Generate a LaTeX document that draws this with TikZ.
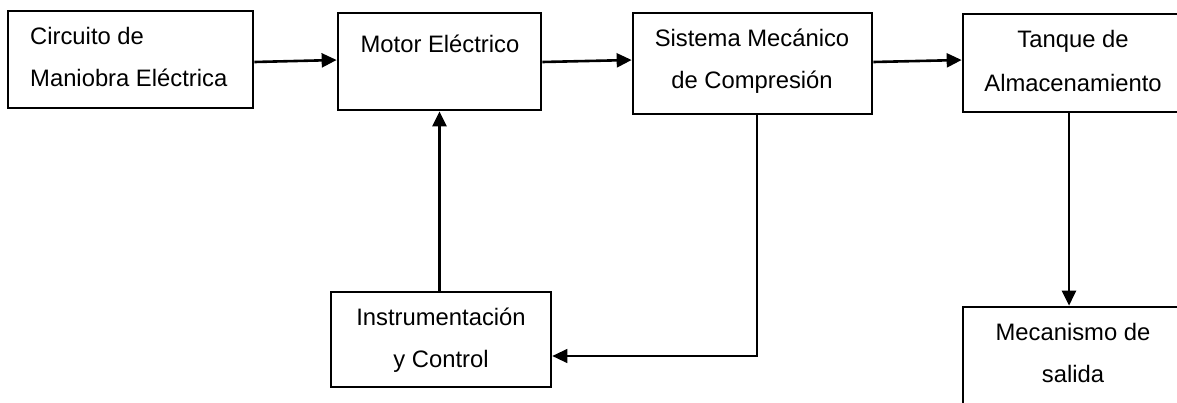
\documentclass[tikz,border=0pt]{standalone}
\usepackage{fontspec}
\setmainfont{Liberation Sans}
\usetikzlibrary{arrows.meta}
\begin{document}
\begin{tikzpicture}[x=1pt,y=-1pt,
  block/.style={draw, line width=2.7pt, inner sep=0pt},
  lbl/.style={inner sep=0pt, anchor=base, align=center,
    font=\fontsize{23.8}{42}\selectfont},
  flow/.style={line width=2.6pt, -{Triangle[length=15pt,width=14pt]}},
  feedback/.style={line width=1.3pt, -{Triangle[length=15pt,width=14pt]}}]
\useasboundingbox (0,0) rectangle (1177,402);
\clip (0,0) rectangle (1177,402);

% blocks
\node[block, minimum width=245pt, minimum height=97pt]  (b1) at (130.5,59.5) {};
\node[block, minimum width=203pt, minimum height=97pt]  (b2) at (439.5,61.5) {};
\node[block, minimum width=239pt, minimum height=101pt] (b3) at (752.5,63.5) {};
\node[block, minimum width=220pt, minimum height=98pt]  (b4) at (1073,63) {};
\node[block, minimum width=220pt, minimum height=95pt]  (b5) at (441,339.5) {};
\node[block, minimum width=220pt, minimum height=133pt] (b6) at (1073,373.5) {};

% labels (base anchor sits on the last line)
\node[lbl, anchor=base west, align=left] (t1) at (30,86) {Circuito de\\Maniobra Eléctrica};
\node[lbl] (t2) at (440,52) {Motor Eléctrico};
\node[lbl] (t3) at (752,88) {Sistema Mecánico\\de Compresión};
\node[lbl, font=\fontsize{23.8}{44}\selectfont] (t4) at (1073,91) {Tanque de\\Almacenamiento};
\node[lbl] (t5) at (441,367) {Instrumentación\\y Control};
\node[lbl] (t6) at (1073,382) {Mecanismo de\\salida};

% connectors
\coordinate (r1) at (0,62);
\coordinate (r2) at (0,60);
\coordinate (fb) at (757,356);
\coordinate (dx) at (1069,0);
\draw[flow] (b1.east |- r1) -- (b2.west |- r2);
\draw[flow] (b2.east |- r1) -- (b3.west |- r2);
\draw[flow] (b3.east |- r1) -- (b4.west |- r2);
\draw[flow] (b5.north -| b2.south) -- (b2.south);
\draw[flow] (b4.south -| dx) -- (b6.north -| dx);
\draw[feedback] (b3.south -| fb) |- (b5.east |- fb);
\end{tikzpicture}
\end{document}
